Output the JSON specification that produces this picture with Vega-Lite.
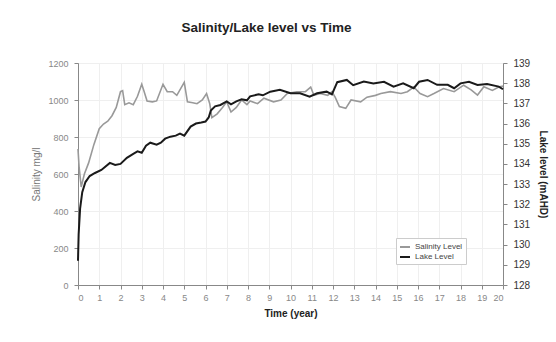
{
  "$schema": "https://vega.github.io/schema/vega-lite/v6.json",
  "width": 425,
  "height": 222,
  "autosize": "none",
  "padding": {"left": 78, "top": 63, "right": 53, "bottom": 57},
  "background": "white",
  "config": {
    "font": "Liberation Sans",
    "view": {"stroke": "#aaa", "strokeWidth": 1},
    "axis": {"grid": true, "gridColor": "#efefef", "gridWidth": 1, "domainColor": "#888", "tickColor": "#888", "tickSize": 4, "labelFont": "Liberation Sans", "titleFont": "Liberation Sans"}
  },
  "title": {"text": "Salinity/Lake level vs Time", "fontSize": 13.5, "fontWeight": "bold", "color": "#222", "offset": 24, "dx": -24, "anchor": "middle"},
  "data": {"values": [
    {"t": 0, "v": 735, "s": "Salinity Level"},
    {"t": 0.05, "v": 640, "s": "Salinity Level"},
    {"t": 0.15, "v": 530, "s": "Salinity Level"},
    {"t": 0.3, "v": 600, "s": "Salinity Level"},
    {"t": 0.5, "v": 660, "s": "Salinity Level"},
    {"t": 0.75, "v": 760, "s": "Salinity Level"},
    {"t": 1.0, "v": 845, "s": "Salinity Level"},
    {"t": 1.2, "v": 870, "s": "Salinity Level"},
    {"t": 1.4, "v": 885, "s": "Salinity Level"},
    {"t": 1.6, "v": 915, "s": "Salinity Level"},
    {"t": 1.8, "v": 960, "s": "Salinity Level"},
    {"t": 2.0, "v": 1045, "s": "Salinity Level"},
    {"t": 2.1, "v": 1050, "s": "Salinity Level"},
    {"t": 2.2, "v": 975, "s": "Salinity Level"},
    {"t": 2.4, "v": 985, "s": "Salinity Level"},
    {"t": 2.6, "v": 975, "s": "Salinity Level"},
    {"t": 2.8, "v": 1020, "s": "Salinity Level"},
    {"t": 3.0, "v": 1085, "s": "Salinity Level"},
    {"t": 3.1, "v": 1050, "s": "Salinity Level"},
    {"t": 3.25, "v": 995, "s": "Salinity Level"},
    {"t": 3.5, "v": 990, "s": "Salinity Level"},
    {"t": 3.7, "v": 995, "s": "Salinity Level"},
    {"t": 4.0, "v": 1085, "s": "Salinity Level"},
    {"t": 4.2, "v": 1045, "s": "Salinity Level"},
    {"t": 4.45, "v": 1045, "s": "Salinity Level"},
    {"t": 4.65, "v": 1025, "s": "Salinity Level"},
    {"t": 5.0, "v": 1095, "s": "Salinity Level"},
    {"t": 5.15, "v": 990, "s": "Salinity Level"},
    {"t": 5.4, "v": 985, "s": "Salinity Level"},
    {"t": 5.6, "v": 980, "s": "Salinity Level"},
    {"t": 5.85, "v": 1000, "s": "Salinity Level"},
    {"t": 6.05, "v": 1035, "s": "Salinity Level"},
    {"t": 6.2, "v": 980, "s": "Salinity Level"},
    {"t": 6.3, "v": 905, "s": "Salinity Level"},
    {"t": 6.55, "v": 925, "s": "Salinity Level"},
    {"t": 6.8, "v": 960, "s": "Salinity Level"},
    {"t": 7.0, "v": 990, "s": "Salinity Level"},
    {"t": 7.2, "v": 935, "s": "Salinity Level"},
    {"t": 7.45, "v": 960, "s": "Salinity Level"},
    {"t": 7.7, "v": 1000, "s": "Salinity Level"},
    {"t": 7.95, "v": 975, "s": "Salinity Level"},
    {"t": 8.1, "v": 995, "s": "Salinity Level"},
    {"t": 8.45, "v": 980, "s": "Salinity Level"},
    {"t": 8.75, "v": 1010, "s": "Salinity Level"},
    {"t": 9.2, "v": 990, "s": "Salinity Level"},
    {"t": 9.55, "v": 1000, "s": "Salinity Level"},
    {"t": 9.85, "v": 1035, "s": "Salinity Level"},
    {"t": 10.3, "v": 1045, "s": "Salinity Level"},
    {"t": 10.7, "v": 1045, "s": "Salinity Level"},
    {"t": 10.95, "v": 1070, "s": "Salinity Level"},
    {"t": 11.1, "v": 1025, "s": "Salinity Level"},
    {"t": 11.4, "v": 1035, "s": "Salinity Level"},
    {"t": 11.75, "v": 1025, "s": "Salinity Level"},
    {"t": 11.95, "v": 1045, "s": "Salinity Level"},
    {"t": 12.1, "v": 1015, "s": "Salinity Level"},
    {"t": 12.3, "v": 965, "s": "Salinity Level"},
    {"t": 12.6, "v": 955, "s": "Salinity Level"},
    {"t": 12.85, "v": 1000, "s": "Salinity Level"},
    {"t": 13.3, "v": 990, "s": "Salinity Level"},
    {"t": 13.6, "v": 1015, "s": "Salinity Level"},
    {"t": 14.0, "v": 1025, "s": "Salinity Level"},
    {"t": 14.25, "v": 1035, "s": "Salinity Level"},
    {"t": 14.7, "v": 1045, "s": "Salinity Level"},
    {"t": 15.2, "v": 1035, "s": "Salinity Level"},
    {"t": 15.5, "v": 1045, "s": "Salinity Level"},
    {"t": 15.8, "v": 1070, "s": "Salinity Level"},
    {"t": 16.1, "v": 1035, "s": "Salinity Level"},
    {"t": 16.45, "v": 1018, "s": "Salinity Level"},
    {"t": 16.75, "v": 1035, "s": "Salinity Level"},
    {"t": 17.2, "v": 1062, "s": "Salinity Level"},
    {"t": 17.7, "v": 1045, "s": "Salinity Level"},
    {"t": 18.15, "v": 1080, "s": "Salinity Level"},
    {"t": 18.5, "v": 1055, "s": "Salinity Level"},
    {"t": 18.8, "v": 1027, "s": "Salinity Level"},
    {"t": 19.1, "v": 1072, "s": "Salinity Level"},
    {"t": 19.5, "v": 1052, "s": "Salinity Level"},
    {"t": 19.8, "v": 1070, "s": "Salinity Level"},
    {"t": 20.0, "v": 1075, "s": "Salinity Level"},
    {"t": 0, "v": 129.2, "s": "Lake Level"},
    {"t": 0.03, "v": 130.5, "s": "Lake Level"},
    {"t": 0.1, "v": 131.8, "s": "Lake Level"},
    {"t": 0.2, "v": 132.6, "s": "Lake Level"},
    {"t": 0.35, "v": 133.1, "s": "Lake Level"},
    {"t": 0.55, "v": 133.4, "s": "Lake Level"},
    {"t": 0.8, "v": 133.55, "s": "Lake Level"},
    {"t": 1.1, "v": 133.7, "s": "Lake Level"},
    {"t": 1.5, "v": 134.05, "s": "Lake Level"},
    {"t": 1.75, "v": 133.95, "s": "Lake Level"},
    {"t": 2.0, "v": 134.0, "s": "Lake Level"},
    {"t": 2.3, "v": 134.3, "s": "Lake Level"},
    {"t": 2.6, "v": 134.5, "s": "Lake Level"},
    {"t": 2.8, "v": 134.62, "s": "Lake Level"},
    {"t": 3.0, "v": 134.55, "s": "Lake Level"},
    {"t": 3.2, "v": 134.9, "s": "Lake Level"},
    {"t": 3.4, "v": 135.05, "s": "Lake Level"},
    {"t": 3.7, "v": 134.95, "s": "Lake Level"},
    {"t": 3.9, "v": 135.05, "s": "Lake Level"},
    {"t": 4.1, "v": 135.25, "s": "Lake Level"},
    {"t": 4.35, "v": 135.35, "s": "Lake Level"},
    {"t": 4.6, "v": 135.4, "s": "Lake Level"},
    {"t": 4.8, "v": 135.5, "s": "Lake Level"},
    {"t": 5.0, "v": 135.4, "s": "Lake Level"},
    {"t": 5.3, "v": 135.85, "s": "Lake Level"},
    {"t": 5.55, "v": 136.0, "s": "Lake Level"},
    {"t": 5.8, "v": 136.05, "s": "Lake Level"},
    {"t": 6.0, "v": 136.1, "s": "Lake Level"},
    {"t": 6.15, "v": 136.3, "s": "Lake Level"},
    {"t": 6.25, "v": 136.65, "s": "Lake Level"},
    {"t": 6.45, "v": 136.85, "s": "Lake Level"},
    {"t": 6.7, "v": 136.92, "s": "Lake Level"},
    {"t": 7.0, "v": 137.1, "s": "Lake Level"},
    {"t": 7.2, "v": 136.95, "s": "Lake Level"},
    {"t": 7.45, "v": 137.1, "s": "Lake Level"},
    {"t": 7.7, "v": 137.2, "s": "Lake Level"},
    {"t": 7.95, "v": 137.15, "s": "Lake Level"},
    {"t": 8.1, "v": 137.35, "s": "Lake Level"},
    {"t": 8.5, "v": 137.45, "s": "Lake Level"},
    {"t": 8.7, "v": 137.4, "s": "Lake Level"},
    {"t": 9.05, "v": 137.58, "s": "Lake Level"},
    {"t": 9.5, "v": 137.67, "s": "Lake Level"},
    {"t": 10.0, "v": 137.5, "s": "Lake Level"},
    {"t": 10.45, "v": 137.5, "s": "Lake Level"},
    {"t": 10.9, "v": 137.33, "s": "Lake Level"},
    {"t": 11.25, "v": 137.5, "s": "Lake Level"},
    {"t": 11.7, "v": 137.58, "s": "Lake Level"},
    {"t": 11.95, "v": 137.45, "s": "Lake Level"},
    {"t": 12.2, "v": 138.05, "s": "Lake Level"},
    {"t": 12.65, "v": 138.16, "s": "Lake Level"},
    {"t": 12.95, "v": 137.9, "s": "Lake Level"},
    {"t": 13.45, "v": 138.08, "s": "Lake Level"},
    {"t": 13.9, "v": 137.98, "s": "Lake Level"},
    {"t": 14.4, "v": 138.07, "s": "Lake Level"},
    {"t": 14.85, "v": 137.83, "s": "Lake Level"},
    {"t": 15.3, "v": 137.99, "s": "Lake Level"},
    {"t": 15.8, "v": 137.75, "s": "Lake Level"},
    {"t": 16.05, "v": 138.07, "s": "Lake Level"},
    {"t": 16.45, "v": 138.16, "s": "Lake Level"},
    {"t": 16.9, "v": 137.92, "s": "Lake Level"},
    {"t": 17.4, "v": 137.92, "s": "Lake Level"},
    {"t": 17.7, "v": 137.75, "s": "Lake Level"},
    {"t": 18.0, "v": 137.99, "s": "Lake Level"},
    {"t": 18.4, "v": 138.07, "s": "Lake Level"},
    {"t": 18.8, "v": 137.91, "s": "Lake Level"},
    {"t": 19.25, "v": 137.96, "s": "Lake Level"},
    {"t": 19.8, "v": 137.83, "s": "Lake Level"},
    {"t": 20.0, "v": 137.7, "s": "Lake Level"}
  ]},
  "encoding": {
    "x": {"field": "t", "type": "quantitative", "scale": {"domain": [0, 20], "nice": false},
      "axis": {"title": "Time (year)", "values": [0,1,2,3,4,5,6,7,8,9,10,11,12,13,14,15,16,17,18,19,20], "labelFontSize": 9, "labelColor": "#888", "titleFontSize": 10, "titleFontWeight": "bold", "titleColor": "#222", "titlePadding": 6, "labelPadding": 4}},
    "color": {"field": "s", "type": "nominal",
      "scale": {"domain": ["Salinity Level", "Lake Level"], "range": ["#999999", "#1a1a1a"]},
      "legend": {"title": null, "orient": "none", "legendX": 318, "legendY": 175, "direction": "vertical", "symbolType": "stroke", "symbolSize": 100, "symbolStrokeWidth": 2, "labelFontSize": 8, "labelColor": "#444", "strokeColor": "#ccc", "fillColor": "white", "padding": 3, "rowPadding": 0, "labelOffset": 4}}
  },
  "layer": [
    {
      "transform": [{"filter": "datum.s === 'Salinity Level'"}],
      "mark": {"type": "line", "strokeWidth": 1.6},
      "encoding": {
        "y": {"field": "v", "type": "quantitative", "scale": {"domain": [0, 1200], "nice": false},
          "axis": {"orient": "left", "title": "Salinity mg/l", "format": "d", "values": [0,200,400,600,800,1000,1200], "labelFontSize": 9, "labelColor": "#888", "titleFontSize": 10, "titleFontWeight": "normal", "titleColor": "#777", "titlePadding": 6, "labelPadding": 6}}
      }
    },
    {
      "transform": [{"filter": "datum.s === 'Lake Level'"}],
      "mark": {"type": "line", "strokeWidth": 2},
      "encoding": {
        "y": {"field": "v", "type": "quantitative", "scale": {"domain": [128, 139], "nice": false},
          "axis": {"orient": "right", "title": "Lake level (mAHD)", "values": [128,129,130,131,132,133,134,135,136,137,138,139], "grid": false, "labelFontSize": 10, "labelColor": "#333", "titleFontSize": 10, "titleFontWeight": "bold", "titleColor": "#222", "titlePadding": 8, "labelPadding": 6}}
      }
    }
  ],
  "resolve": {"scale": {"y": "independent"}}
}
